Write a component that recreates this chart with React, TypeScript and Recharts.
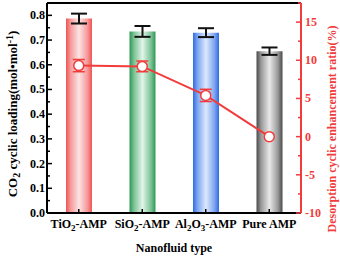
import {
  ComposedChart,
  Bar,
  Line,
  Cell,
  XAxis,
  YAxis,
  ErrorBar,
  ReferenceLine,
} from 'recharts';

document.body.style.margin = '0';

const categories = ['TiO2-AMP', 'SiO2-AMP', 'Al2O3-AMP', 'Pure AMP'];
const loading = [0.787, 0.735, 0.73, 0.655];
const loadingErr = [0.02, 0.022, 0.018, 0.015];
const ratio = [9.3, 9.2, 5.4, 0];
const ratioErr = [0.8, 0.7, 0.8, 0];

const leftTicks = [0, 0.05, 0.1, 0.15, 0.2, 0.25, 0.3, 0.35, 0.4, 0.45, 0.5, 0.55, 0.6, 0.65, 0.7, 0.75, 0.8, 0.85];
const rightTicks = [-10, -7.5, -5, -2.5, 0, 2.5, 5, 7.5, 10, 12.5, 15, 17.5];

const data = categories.map((name, i) => ({
  name,
  loading: loading[i],
  loadingErr: loadingErr[i],
  ratio: ratio[i],
  ratioErr: ratioErr[i],
}));

// bar gradients: dark edges, pale centre
const GRADS = [
  { id: 'gRed', edge: '#ef5454', mid: '#f59a9a', light: '#fde4e4' },
  { id: 'gGreen', edge: '#2f9656', mid: '#7cc497', light: '#e2f4e8' },
  { id: 'gBlue', edge: '#2f6be6', mid: '#7fa7f0', light: '#dce8fd' },
  { id: 'gGray', edge: '#4a4a4a', mid: '#9a9a9a', light: '#e8e8e8' },
];

const RED = '#f23b3b';
const FONT = "'Liberation Serif', 'Times New Roman', serif";

// split "TiO2-AMP" into text with subscripted digits
const withSubs = (s: string, size: number) =>
  s.split(/(\d+)/).filter(Boolean).map((part, i) =>
    /^\d+$/.test(part) ? (
      <tspan key={i} fontSize={size * 0.75} dy={3}>{part}</tspan>
    ) : (
      <tspan key={i} dy={i > 0 ? -3 : 0}>{part}</tspan>
    ),
  );

const LeftTick = (props: any) => {
  const { x, y, payload } = props;
  const major = Math.round(payload.value * 100) % 10 === 0;
  return (
    <g>
      <line x1={x} x2={x + (major ? 5 : 3)} y1={y} y2={y} stroke="#000" strokeWidth={1.5} />
      {major && (
        <text x={x - 2} y={y} dy={4} textAnchor="end" fontSize={12} fontWeight="bold" fontFamily={FONT} fill="#000">
          {payload.value.toFixed(1)}
        </text>
      )}
    </g>
  );
};

const RightTick = (props: any) => {
  const { x, y, payload } = props;
  const major = payload.value % 5 === 0;
  return (
    <g>
      <line x1={x} x2={x - (major ? 5 : 3)} y1={y} y2={y} stroke={RED} strokeWidth={1.5} />
      {major && (
        <text x={x + 4} y={y} dy={4} textAnchor="start" fontSize={12} fontWeight="bold" fontFamily={FONT} fill={RED}>
          {payload.value}
        </text>
      )}
    </g>
  );
};

const BottomTick = (props: any) => {
  const { x, y, payload } = props;
  return (
    <g>
      <line x1={x} x2={x} y1={y} y2={y - 4} stroke="#000" strokeWidth={1.5} />
      <text x={x} y={y + 15} textAnchor="middle" fontSize={12} fontWeight="bold" fontFamily={FONT} fill="#000">
        {withSubs(payload.value, 12)}
      </text>
    </g>
  );
};

export default function App() {
  return (
    <ComposedChart width={340} height={257} data={data} margin={{ top: 3, right: 0, left: 0, bottom: 0 }}>
      <defs>
        {GRADS.map((g) => (
          <linearGradient key={g.id} id={g.id} x1="0" y1="0" x2="1" y2="0">
            <stop offset="0%" stopColor={g.edge} />
            <stop offset="18%" stopColor={g.mid} />
            <stop offset="50%" stopColor={g.light} />
            <stop offset="82%" stopColor={g.mid} />
            <stop offset="100%" stopColor={g.edge} />
          </linearGradient>
        ))}
      </defs>

      <XAxis
        dataKey="name"
        height={44}
        tickSize={0}
        tickMargin={0}
        tickLine={false}
        tick={<BottomTick />}
        axisLine={{ stroke: '#000', strokeWidth: 2 }}
        interval={0}
      />
      <YAxis
        yAxisId="left"
        width={47}
        domain={[0, 0.85]}
        ticks={leftTicks}
        interval={0}
        tickSize={0}
        tickMargin={0}
        tickLine={false}
        tick={<LeftTick />}
        axisLine={{ stroke: '#000', strokeWidth: 2 }}
      />
      <YAxis
        yAxisId="right"
        orientation="right"
        width={39}
        domain={[-10, 17.5]}
        ticks={rightTicks}
        interval={0}
        tickSize={0}
        tickMargin={0}
        tickLine={false}
        tick={<RightTick />}
        axisLine={{ stroke: RED, strokeWidth: 2 }}
      />

      <ReferenceLine yAxisId="left" y={0.85} stroke="#000" strokeWidth={2} />

      <Bar yAxisId="left" dataKey="loading" barSize={26} isAnimationActive={false}>
        {data.map((_, i) => (
          <Cell key={i} fill={`url(#${GRADS[i].id})`} />
        ))}
        <ErrorBar dataKey="loadingErr" width={8} stroke="#111" strokeWidth={2} />
      </Bar>

      <Line
        yAxisId="right"
        dataKey="ratio"
        stroke={RED}
        strokeWidth={2}
        dot={{ r: 5, fill: '#fff', stroke: RED, strokeWidth: 1.5 }}
        isAnimationActive={false}
      >
        <ErrorBar dataKey="ratioErr" width={6} stroke={RED} strokeWidth={1.5} />
      </Line>

      <text
        transform="translate(17,114) rotate(-90)"
        textAnchor="middle"
        fontSize={13}
        fontWeight="bold"
        fontFamily={FONT}
        fill="#000"
      >
        CO<tspan fontSize={10} dy={3}>2</tspan>
        <tspan dy={-3}> cyclic loading(mol•mol</tspan>
        <tspan fontSize={10} dy={-4}>-1</tspan>
        <tspan dy={4}>)</tspan>
      </text>
      <text
        transform="translate(336,129) rotate(-90)"
        textAnchor="middle"
        fontSize={12}
        fontWeight="bold"
        fontFamily={FONT}
        fill={RED}
      >
        Desorption cyclic enhancement ratio(%)
      </text>
      <text x={174} y={252} textAnchor="middle" fontSize={12} fontWeight="bold" fontFamily={FONT} fill="#000">
        Nanofluid type
      </text>
    </ComposedChart>
  );
}
